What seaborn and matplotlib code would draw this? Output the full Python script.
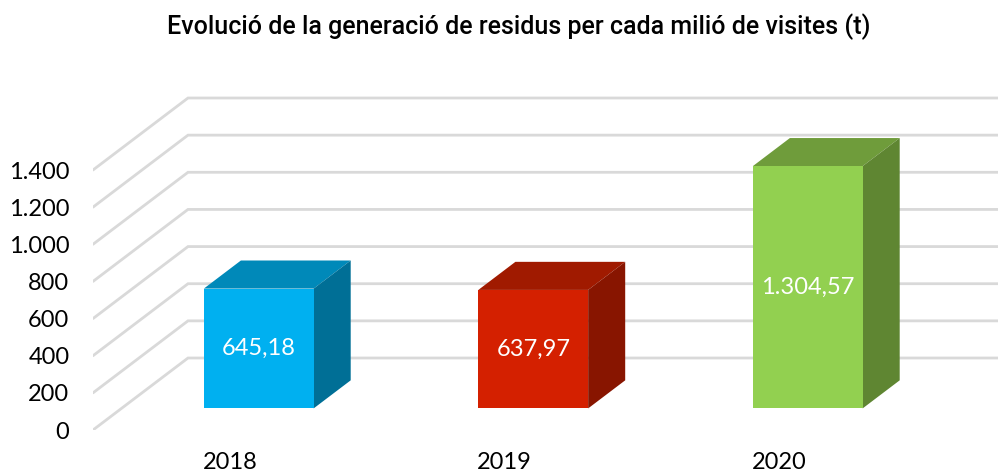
import numpy as np
import matplotlib
matplotlib.use("Agg")
import matplotlib.pyplot as plt
import matplotlib.transforms as mtransforms
from matplotlib.patches import Polygon
import seaborn as sns

# data
years = ["2018", "2019", "2020"]
residus = [645.18, 637.97, 1304.57]
value_labels = ["645,18", "637,97", "1.304,57"]
yticks = [0, 200, 400, 600, 800, 1000, 1200, 1400]
ytick_labels = ["0", "200", "400", "600", "800", "1.000", "1.200", "1.400"]
front_cols = ["#00B0F0", "#D42000", "#92D050"]
top_cols = ["#0089B9", "#A01A00", "#6F9C3B"]
side_cols = ["#006F96", "#881500", "#5F8632"]
title = "Evolució de la generació de residus per cada milió de visites (t)"

sns.set_theme(style="white")
plt.rcParams["font.family"] = ["Lato", "DejaVu Sans"]

W, H = 998, 473
fig = plt.figure(figsize=(W / 100, H / 100), dpi=100)

# pixel layout of the fake 3d box
px_cat = 274.5            # px per category
px_unit = 260 / 1400      # px per value unit
x_left, y_base, y_top = 93, 430, 90
ax = fig.add_axes([x_left / W, (H - y_base) / H, 1 - x_left / W, (y_base - y_top) / H])
ax.set_xlim(-0.5, -0.5 + (W - x_left) / px_cat)
ax.set_ylim(0, (y_base - y_top) / px_unit)

# depth offsets (full floor depth) in data units
DX = 95 / px_cat
DY = 72 / px_unit
d0, d1 = 0.30, 0.69       # bar front / back depth
bw = 0.40


def proj(x, y, d):
    return (x + d * DX, y + d * DY)


# walls: left wall diagonals + back wall horizontals
for v in yticks:
    xs = [-0.5, -0.5 + DX, 3.0]
    ys = [v, v + DY, v + DY]
    ax.plot(xs, ys, color="#D9D9D9", lw=2, zorder=0, solid_joinstyle="miter")

sns.barplot(x=years, y=residus, hue=years, palette=front_cols, width=bw,
            saturation=1, legend=False, linewidth=0, ax=ax, zorder=3)
shift = mtransforms.Affine2D().translate(d0 * DX, d0 * DY) + ax.transData
for p in ax.patches:
    p.set_transform(shift)

for i, h in enumerate(residus):
    x0, x1 = i - bw / 2, i + bw / 2
    top = [proj(x0, h, d0), proj(x1, h, d0), proj(x1, h, d1), proj(x0, h, d1)]
    side = [proj(x1, 0, d0), proj(x1, h, d0), proj(x1, h, d1), proj(x1, 0, d1)]
    ax.add_patch(Polygon(top, closed=True, facecolor=top_cols[i], lw=0, zorder=2))
    ax.add_patch(Polygon(side, closed=True, facecolor=side_cols[i], lw=0, zorder=2))
    cx, cy = proj(i, h / 2, d0)
    ax.text(cx, cy, value_labels[i], color="white", ha="center", va="center",
            fontsize=17, fontweight="normal", zorder=5)

ax.set_xlim(-0.5, -0.5 + (W - x_left) / px_cat)
ax.set_yticks(yticks)
ax.set_yticklabels(ytick_labels)
ax.tick_params(axis="y", length=0, pad=17, labelsize=17, labelcolor="black")
ax.tick_params(axis="x", length=0, pad=16, labelsize=17, labelcolor="black")
ax.set_xlabel("")
ax.set_ylabel("")
sns.despine(ax=ax, left=True, bottom=True)
ax.grid(False)

fig.text(0.52, 1 - 27 / H, title, ha="center", va="center", fontsize=18,
         fontweight="medium", family=["Roboto", "DejaVu Sans"], color="black")

fig.savefig("out.png", dpi=100, facecolor="white")
